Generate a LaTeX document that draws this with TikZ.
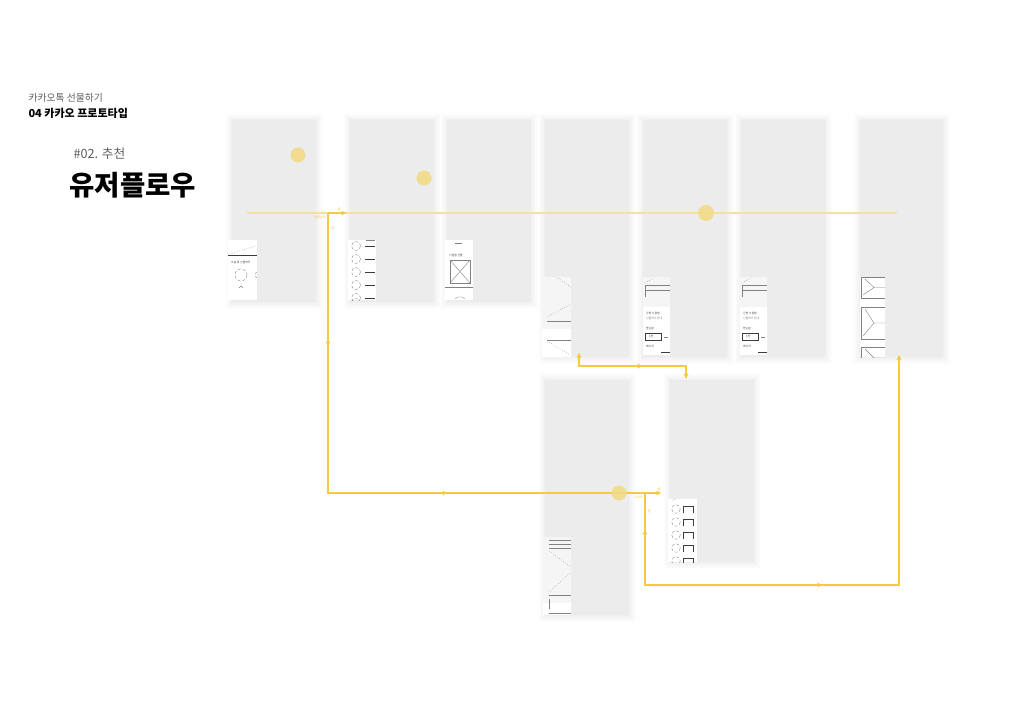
\documentclass[tikz,border=0pt]{standalone}
\usepackage{fontspec}
\setmainfont{Noto Sans CJK KR}
\usetikzlibrary{arrows.meta,decorations.markings}
\definecolor{panelc}{RGB}{236,236,236}
\definecolor{gold}{RGB}{245,202,60}
\definecolor{lightgold}{RGB}{244,226,152}
\definecolor{dotc}{RGB}{242,218,130}
\definecolor{wfc}{RGB}{130,130,130}
\definecolor{wfdark}{RGB}{60,60,60}
\definecolor{txtgray}{RGB}{95,95,95}
\newcommand\mypanel[5]{%
  \foreach \g/\p in {7/12,5.5/25,4/40,2.5/58,1.2/78} {
    \fill[panelc!\p] (#2-\g,#3-\g) rectangle (#4+\g,#5+\g);
  }
  \node[panelbox, anchor=north west, minimum width={(#4-#2)*1pt}, minimum height={(#5-#3)*1pt}] (#1) at (#2,#3) {};
}
\newcommand\mythumb[5]{%
  \node[thumbbox, anchor=north west, minimum width={(#4-#2)*1pt}, minimum height={(#5-#3)*1pt}] (#1) at (#2,#3) {};
}
\tikzset{
  panelbox/.style={fill=panelc, draw=none, inner sep=0pt, outer sep=0pt},
  thumbbox/.style={fill=white, draw=none, inner sep=0pt, outer sep=0pt},
  flow/.style={draw=gold, line width=1.1pt},
  wf/.style={draw=wfc, line width=0.4pt},
  wfdot/.style={draw=wfc, line width=0.5pt, dotted},
  wfdash/.style={draw=wfc, line width=0.35pt, densely dashed},
  wfline/.style={draw=wfdark, line width=0.5pt},
  tinytxt/.style={font=\fontsize{2.8}{3}\selectfont, inner sep=0pt, text=wfdark},
  flowlbl/.style={font=\fontsize{3.2}{4}\selectfont, inner sep=0pt, text=gold},
  dot/.style={fill=dotc, opacity=0.85, draw=none},
  >={Triangle[length=4.5pt,width=4.5pt]}
}
\begin{document}
\begin{tikzpicture}[x=1pt,y=-1pt]
\useasboundingbox (0,0) rectangle (1024,725);
\fill[white] (0,0) rectangle (1024,725);

% headings
\node[anchor=west, font=\fontsize{9.8}{11}\selectfont, text=txtgray] (h1) at (25,98) {카카오톡 선물하기};
\node[anchor=west, font=\bfseries\fontsize{11}{13}\selectfont] (h2) at (25,113) {04 카카오 프로토타입};
\node[anchor=west, font=\fontsize{12.7}{14}\selectfont, text=txtgray] (h3) at (70,154) {\#02. 추천};
\node[anchor=west, font=\bfseries\fontsize{27.5}{32}\selectfont] (h4) at (66,185) {유저플로우};

% panels
\mypanel{p1}{232}{120}{316}{302}
\mypanel{p2}{350}{120}{434}{302}
\mypanel{p3}{447}{120}{531}{302}
\mypanel{p4}{545}{120}{629}{357}
\mypanel{p5}{643}{120}{727}{357}
\mypanel{p6}{741}{120}{825}{357}
\mypanel{p7}{860}{120}{943}{357}
\mypanel{p8}{545}{380}{629}{615}
\mypanel{p9}{670}{380}{754}{562}

% thumbnails
\mythumb{t1}{228}{240}{257}{300}
\begin{scope}[shift={(228,240)}]
  \clip (0,0) rectangle (29,60);
  \draw[wfdot] (2,14) -- (28,6);
  \draw[wfline] (0,15) -- (29,15);
  \node[tinytxt, anchor=west] (t1a) at (3,22) {오늘 뭐 선물하지};
  \draw[wfdash] (13,35) circle (6);
  \draw[wfdash] (30,35) circle (3);
  \draw[wf] (11,48) -- (13,46) -- (15,48);
\end{scope}

\mythumb{t2}{348}{240}{376}{300}
\begin{scope}[shift={(348,240)}]
  \clip (0,0) rectangle (28,60);
  \draw[wf] (18,0.5) -- (27,0.5);
  \foreach \k in {0,...,4} {
    \draw[wfdash] (8,{6+13*\k}) circle (4.5);
    \draw[wfline] (17,{6+13*\k}) -- (27,{6+13*\k});
  }
  \draw[wfdash] (8,63) circle (4.5);
\end{scope}

\mythumb{t3}{445}{240}{473}{300}
\begin{scope}[shift={(445,240)}]
  \clip (0,0) rectangle (28,60);
  \draw[wf] (10,3) -- (17,3);
  \node[tinytxt, anchor=west] (t3a) at (4,15) {기념일 선물};
  \draw[wf] (5,20) rectangle (25,43);
  \draw[wf] (5,20) -- (25,43) (5,43) -- (25,20);
  \draw[wf] (0,47) -- (28,47);
  \draw[wf] (10,59) -- (13,57) -- (17,57) -- (20,59);
\end{scope}

\mythumb{t4}{542}{277}{571}{357}
\begin{scope}[shift={(542,277)}]
  \clip (0,0) rectangle (29,80);
  \fill[white!96!black] (0,0) rectangle (29,52);
  \draw[wfdot] (14,0) -- (29,10);
  \draw[wfdot] (5,40) -- (29,27);
  \draw[wf] (5,44) -- (29,44);
  \draw[wf] (5,63) -- (29,63);
  \draw[wfdot] (5,64) -- (28,78);
\end{scope}

\foreach \nm/\xo in {t5/643,t6/740} {
  \mythumb{\nm}{\xo}{277}{\xo+27}{355}
  \begin{scope}[shift={(\xo,277)}]
    \clip (0,0) rectangle (27,78);
    \fill[white!96!black] (0,0) rectangle (27,30);
    \draw[wfdot] (2,6) -- (13,0);
    \draw[wf] (2,8) -- (27,8) (2,13) -- (27,13) (2,8) -- (2,20);
    \node[tinytxt, anchor=west] at (3,36) {간편 사용법};
    \node[tinytxt, anchor=west, text=wfc] at (3,41) {선물하기 안내};
    \node[tinytxt, anchor=west] at (3,51) {받는분};
    \draw[wfline] (2,56) rectangle (18,63);
    \node[tinytxt, anchor=west] at (6,59.5) {1인};
    \draw[wf] (21,60) -- (25,60);
    \node[tinytxt, anchor=west] at (3,69) {메시지};
    \draw[wfline] (18,75) -- (27,75);
  \end{scope}
}

\mythumb{t7}{860}{277}{885}{357}
\begin{scope}[shift={(860,277)}]
  \clip (0,0) rectangle (25,80);
  \foreach \ya/\yb in {0/21, 30/62, 70/92} {
    \draw[wf] (25,\ya) -- (1,\ya) -- (1,\yb) -- (25,\yb);
    \draw[wf] (3,{\yb-3}) -- (14,{(\ya+\yb)/2}) -- (5,{\ya+2});
    \draw[wf] (14,{(\ya+\yb)/2}) -- (25,{(\ya+\yb)/2+0.01});
  }
\end{scope}

\mythumb{t8}{543}{537}{571}{615}
\begin{scope}[shift={(543,537)}]
  \clip (0,0) rectangle (28,78);
  \fill[white!96!black] (0,0) rectangle (28,66);
  \draw[wf] (6,3) -- (28,3) (6,7) -- (28,7) (6,11) -- (28,11);
  \draw[wfdot] (6,14) -- (28,30);
  \draw[wfdot] (6,55) -- (28,35);
  \draw[wf] (6,58) -- (28,58);
  \draw[wf] (6,62) -- (6,72);
  \draw[wf] (6,76) -- (28,76);
\end{scope}

\mythumb{t9}{668}{499}{697}{562}
\begin{scope}[shift={(668,499)}]
  \clip (0,0) rectangle (29,63);
  \draw[wfdot] (4,2) -- (7,0);
  \foreach \k in {0,...,4} {
    \draw[wfdash] (8,{10+13*\k}) circle (4.3);
    \draw[wfline] (15,{14+13*\k}) -- (15,{7+13*\k}) -- (25,{7+13*\k}) -- (25,{14+13*\k});
  }
\end{scope}

% coordinates for connectors
\coordinate (La) at (247,213);
\coordinate (Lb) at (897,213);
\coordinate (S1) at (328,213);
\coordinate (S1e) at (346,213);
\coordinate (B1) at (328,493);
\coordinate (B2) at (645,493);
\coordinate (B2e) at (661,493);
\coordinate (C1) at (645,585);
\coordinate (C2) at (899,585);
\coordinate (C3) at (899,355);
\coordinate (D0) at (686,378);
\coordinate (D1) at (686,366);
\coordinate (D2) at (579,366);
\coordinate (D3) at (579,353);

% main timeline
\draw[draw=lightgold, line width=2pt] (La) -- (Lb);

% flows
\draw[flow, ->] (S1) -- (S1e);
\draw[flow, postaction={decorate}, decoration={markings,
  mark=at position 133pt with {\arrow{>}},
  mark=at position 399pt with {\arrow{>}}}] (S1) -- (B1) -- (B2);
\draw[flow, ->] (B2) -- (B2e);
\draw[flow, ->, postaction={decorate}, decoration={markings,
  mark=at position 44pt with {\arrow{>}},
  mark=at position 269pt with {\arrow{>}}}] (B2) -- (C1) -- (C2) -- (C3);
\draw[flow, ->, postaction={decorate}, decoration={markings,
  mark=at position 7pt with {\arrow{>}},
  mark=at position 63pt with {\arrow{>}}}] (D0) -- (D1) -- (D2) -- (D3);

% flow labels
\node[flowlbl] (l1) at (339,209) {탭};
\node[flowlbl, anchor=east] (l2) at (326,217) {상품선택};
\node[flowlbl] (l3) at (333,228) {탭};
\node[flowlbl] (l4) at (659,489) {탭};
\node[flowlbl, anchor=east] (l5) at (643,497) {4 A03};
\node[flowlbl] (l6) at (649,511) {탭};

% dots
\fill[dot] (298,155) circle (7.5);
\fill[dot] (424,178) circle (7.5);
\fill[dot] (706,213) circle (8);
\fill[dot] (619,493) circle (7.5);
\end{tikzpicture}
\end{document}
